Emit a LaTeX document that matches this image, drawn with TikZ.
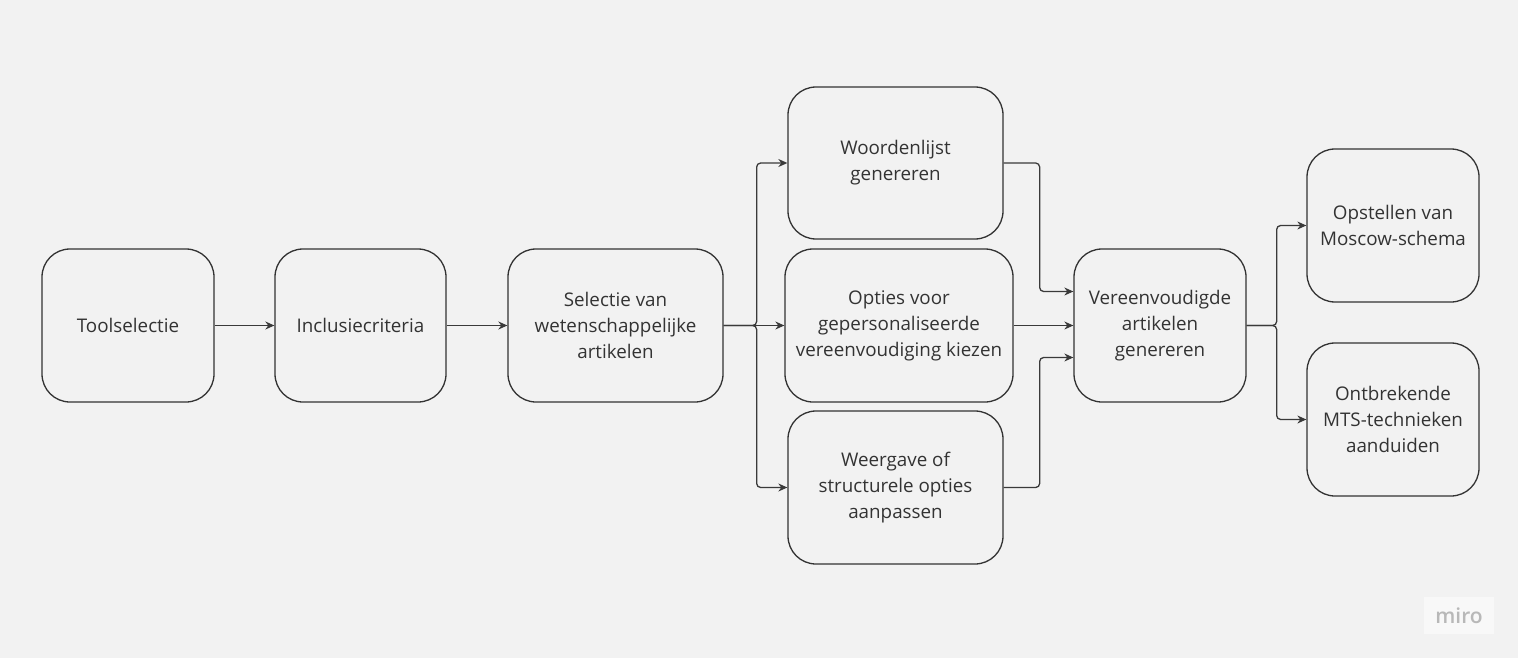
\documentclass[tikz,border=0pt]{standalone}
\usepackage{fontspec}
\setmainfont{Open Sans}
\usetikzlibrary{arrows.meta}
\definecolor{bg}{HTML}{F2F2F2}
\definecolor{ink}{HTML}{333333}
\definecolor{linec}{HTML}{3A3A3A}
\tikzset{
  box/.style={draw=ink, line width=1.3pt, rounded corners=28pt, inner sep=0pt, align=center, text=ink,
    font=\fontsize{18.8}{26}\selectfont},
  conn/.style={draw=linec, line width=1.3pt, rounded corners=4pt, -{Stealth[length=9pt,width=8pt]}},
}
\begin{document}
\begin{tikzpicture}[x=1pt,y=-1pt]
\fill[bg] (0,0) rectangle (1518,658);
\useasboundingbox (0,0) rectangle (1518,658);
\newcommand{\bx}[6]{\node[box, minimum width=#4-#2, minimum height=#5-#3] (#1) at ({(#2+#4)/2},{(#3+#5)/2}) {#6};}
\bx{a}{42}{249}{214}{402}{Toolselectie}
\bx{b}{275}{249}{446}{402}{Inclusiecriteria}
\bx{c}{508}{249}{723}{402}{Selectie van\\wetenschappelijke\\artikelen}
\bx{d1}{788}{87}{1003}{239}{Woordenlijst\\genereren}
\bx{d2}{785}{249}{1013}{402}{Opties voor\\gepersonaliseerde\\vereenvoudiging kiezen}
\bx{d3}{788}{411}{1003}{564}{Weergave of\\structurele opties\\aanpassen}
\bx{e}{1074}{249}{1246}{402}{Vereenvoudigde\\artikelen\\genereren}
\bx{f1}{1307}{149}{1479}{302}{Opstellen van\\Moscow-schema}
\bx{f2}{1307}{343}{1479}{496}{Ontbrekende\\MTS-technieken\\aanduiden}
\draw[conn] (a.east) -- (b.west);
\draw[conn] (b.east) -- (c.west);
\draw[conn] (c.east) -- (d2.west);
\draw[conn] (c.east) -- ++(33,0) |- (d1.west);
\draw[conn] (c.east) -- ++(33,0) |- (d3.west);
\draw[conn] (d1.east) -- ++(36,0) |- ([yshift=34pt]e.west);
\draw[conn] (d2.east) -- (e.west);
\draw[conn] (d3.east) -- ++(36,0) |- ([yshift=-32pt]e.west);
\draw[conn] (e.east) -- ++(30,0) |- (f1.west);
\draw[conn] (e.east) -- ++(30,0) |- (f2.west);
\node[fill=white!50!bg, minimum width=70pt, minimum height=37pt, inner sep=0pt] (logo) at (1459,615.5) {};
\node[text=black!28, font=\fontsize{21}{21}\selectfont\sffamily\setmainfont{Open Sans Semibold}] (miro) at (logo) {miro};
\end{tikzpicture}
\end{document}
